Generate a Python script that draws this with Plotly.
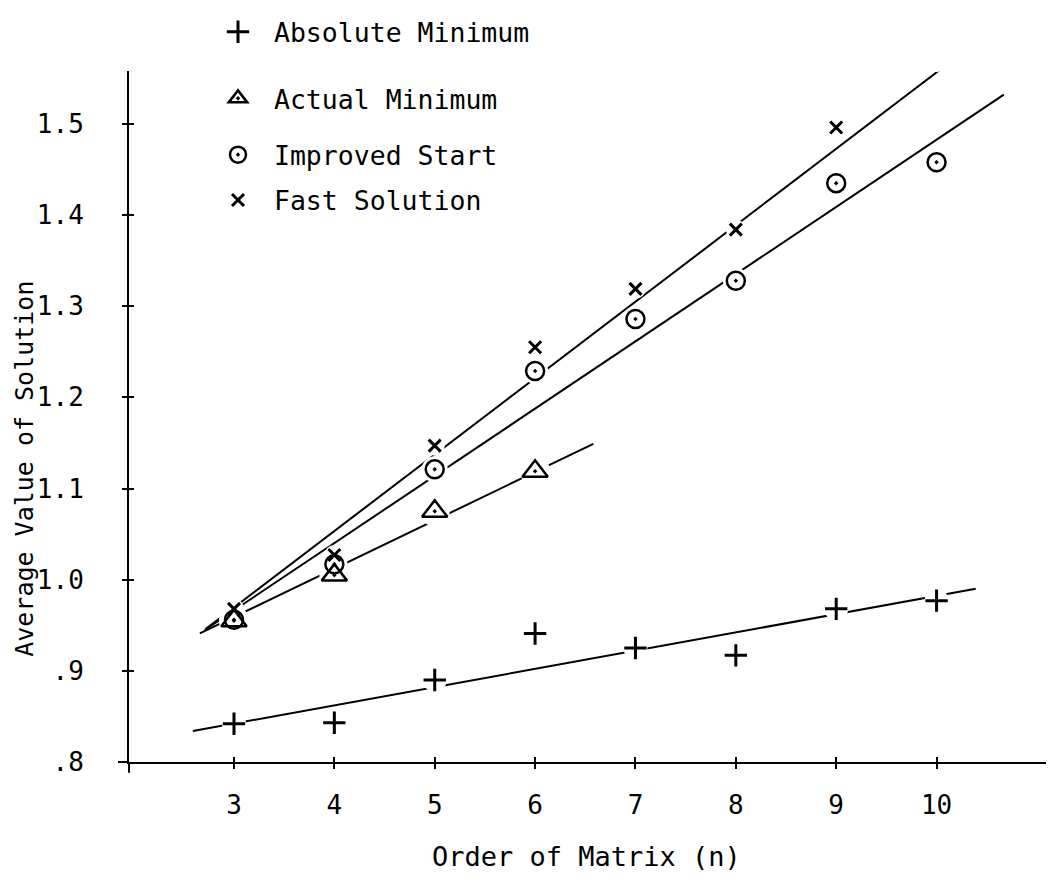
import plotly.graph_objects as go

# ---- data ----
n_all = [3, 4, 5, 6, 7, 8, 9, 10]
n_actual = [3, 4, 5, 6]
absolute_min = [0.842, 0.843, 0.890, 0.941, 0.925, 0.917, 0.968, 0.977]
actual_min = [0.955, 1.005, 1.075, 1.119]
improved_start = [0.956, 1.017, 1.121, 1.229, 1.286, 1.328, 1.435, 1.458]
fast_solution = [0.968, 1.027, 1.147, 1.255, 1.319, 1.384, 1.496, 1.568]

# hand-drawn fitted lines (end points)
fit_abs_x = [2.59, 10.39]
fit_abs_y = [0.834, 0.990]
fit_act_x = [2.66, 6.58]
fit_act_y = [0.941, 1.149]
fit_imp_x = [2.71, 10.67]
fit_imp_y = [0.945, 1.532]
fit_fast_x = [2.72, 10.59]
fit_fast_y = [0.946, 1.606]

x_ticks = [3, 4, 5, 6, 7, 8, 9, 10]
y_ticks = [0.8, 0.9, 1.0, 1.1, 1.2, 1.3, 1.4, 1.5]
y_ticktext = [".8", ".9", "1.0", "1.1", "1.2", "1.3", "1.4", "1.5"]

MONO = "DejaVu Sans Mono, Liberation Mono, monospace"

fig = go.Figure()

# fitted lines
for fx, fy in [(fit_abs_x, fit_abs_y), (fit_act_x, fit_act_y),
               (fit_imp_x, fit_imp_y), (fit_fast_x, fit_fast_y)]:
    fig.add_trace(go.Scatter(x=fx, y=fy, mode="lines",
                             line=dict(color="black", width=2),
                             showlegend=False, hoverinfo="skip"))

series = [
    (" Absolute Minimum", n_all, absolute_min, "cross-thin", 16, 3, "legend"),
    (" Actual Minimum", n_actual, actual_min, "triangle-up-open-dot", 22, 2.5, "legend2"),
    (" Improved Start", n_all, improved_start, "circle-open-dot", 18, 2.5, "legend3"),
    (" Fast Solution", n_all, fast_solution, "x-thin", 12, 3, "legend4"),
]

# white halos to break the lines around markers (as in the hand drawing)
for name, xs, ys, sym, size, lw, lg in series:
    fig.add_trace(go.Scatter(x=xs, y=ys, mode="markers",
                             marker=dict(symbol="circle", size=size + 8, color="white",
                                         line=dict(width=0)),
                             showlegend=False, hoverinfo="skip"))

for name, xs, ys, sym, size, lw, lg in series:
    fig.add_trace(go.Scatter(x=xs, y=ys, mode="markers", name=name, legend=lg,
                             marker=dict(symbol=sym, size=size, color="black",
                                         line=dict(color="black", width=lw))))

# page has an 8px body margin; work in page pixel coordinates
OFF = 8
W, H = 1054 - OFF, 882 - OFF
L, R, T, B = 129 - OFF, 0, 62 - OFF, 120
pw, ph = W - L - R, H - T - B
BOTTOM = 762  # page y of the x axis


def px(x):
    return (x - OFF - L) / pw


def py(y):
    return (BOTTOM - y) / ph


legend_common = dict(font=dict(family=MONO, size=26.5, color="black"),
                     bgcolor="rgba(0,0,0,0)", xanchor="left", yanchor="middle",
                     x=px(218))
layout_legends = {}
for key, ypix in [("legend", 22), ("legend2", 90), ("legend3", 147), ("legend4", 193)]:
    layout_legends[key] = dict(legend_common, y=py(ypix))

fig.update_layout(
    width=W, height=H,
    margin=dict(l=L, r=R, t=T, b=B),
    paper_bgcolor="white", plot_bgcolor="white",
    font=dict(family=MONO, size=26, color="black"),
    xaxis=dict(range=[1.954, 11.17], tickvals=x_ticks, ticktext=[str(v) for v in x_ticks],
               showgrid=False, zeroline=False, showline=True, linecolor="black", linewidth=2,
               ticks="outside", ticklen=5, tickwidth=2, tickcolor="black",
               ticklabelstandoff=14, tickfont=dict(family=MONO, size=26)),
    yaxis=dict(range=[0.8, 1.558], tickvals=y_ticks, ticktext=y_ticktext,
               showgrid=False, zeroline=False, showline=True, linecolor="black", linewidth=2,
               ticks="outside", ticklen=5, tickwidth=2, tickcolor="black",
               ticklabelstandoff=33, tickfont=dict(family=MONO, size=26)),
    xaxis2=dict(overlaying="x", matches="x", anchor="y", side="bottom",
                tickvals=x_ticks, showticklabels=False, showgrid=False, zeroline=False,
                showline=False, ticks="inside", ticklen=5, tickwidth=2, tickcolor="black"),
    yaxis2=dict(overlaying="y", matches="y", anchor="x", side="left",
                tickvals=y_ticks, showticklabels=False, showgrid=False, zeroline=False,
                showline=False, ticks="inside", ticklen=5, tickwidth=2, tickcolor="black"),
    **layout_legends,
)

# dummy trace so the overlay axes render
fig.add_trace(go.Scatter(x=[None], y=[None], xaxis="x2", yaxis="y2",
                         showlegend=False, hoverinfo="skip"))

# axis extensions beyond the corner, as drawn
fig.add_shape(type="line", xref="paper", yref="paper", x0=0, x1=0, y0=0, y1=py(773),
              line=dict(color="black", width=2))
fig.add_shape(type="line", xref="paper", yref="paper", x0=px(118), x1=0, y0=0, y1=0,
              line=dict(color="black", width=2))

fig.add_annotation(text="Average Value of Solution", xref="paper", yref="paper",
                   x=px(25), y=py(465), xanchor="center", yanchor="middle", textangle=-90,
                   showarrow=False, font=dict(family=MONO, size=25, color="black"))
fig.add_annotation(text="Order of Matrix (n)", xref="paper", yref="paper",
                   x=px(586), y=py(858), xanchor="center", yanchor="middle",
                   showarrow=False, font=dict(family=MONO, size=27, color="black"))

fig.write_html("out.html")
